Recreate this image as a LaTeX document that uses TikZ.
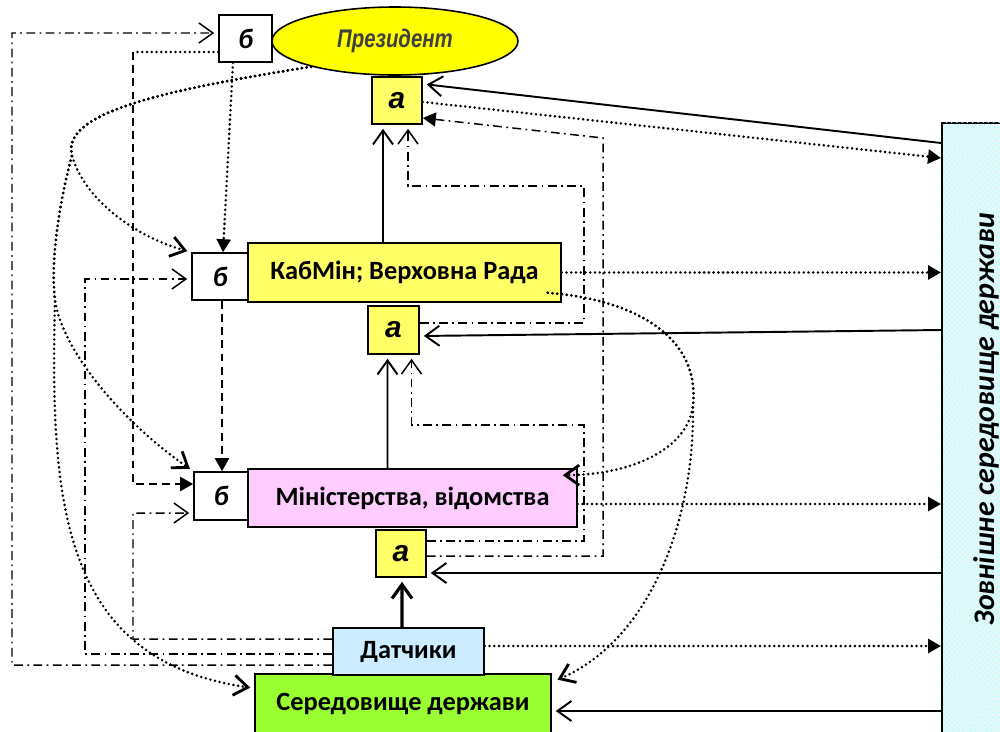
\documentclass[tikz,border=0pt]{standalone}
\usepackage{fontspec}
\setmainfont{Carlito}
\newfontfamily\arialf{Liberation Sans}
\usetikzlibrary{arrows.meta,shapes.geometric,patterns}
\definecolor{prezyellow}{HTML}{FFFF00}
\definecolor{paleyellow}{HTML}{FFFF66}
\definecolor{pinkbox}{HTML}{FFCCFF}
\definecolor{skyblue}{HTML}{CCECFF}
\definecolor{grassgreen}{HTML}{99FF33}
\definecolor{iceblue}{HTML}{E3F8F8}
\tikzset{
  blk/.style={draw, line width=0.9pt, inner sep=0pt, font=\bfseries\fontsize{15}{17}\selectfont},
  abox/.style={blk, fill=paleyellow, minimum width=10mm, minimum height=9.4mm, font=\arialf\bfseries\itshape\fontsize{17}{18}\selectfont},
  bbox/.style={blk, fill=white, minimum width=11mm, minimum height=9.4mm, font=\bfseries\itshape\fontsize{16}{18}\selectfont},
  opentip/.style={-{Straight Barb[length=2.8mm,width=4mm]}, shorten >=0.8mm},
  filltip/.style={-{Triangle[length=2.6mm,width=2.8mm]}},
  sol/.style={line width=1.1pt, opentip},
  dotl/.style={line width=1.6pt, dash pattern=on 0pt off 2.7pt, line cap=round},
  ddot/.style={line width=0.85pt, dash pattern=on 5pt off 2.5pt on 1pt off 2.5pt},
  dsh/.style={line width=1.1pt, dash pattern=on 4.5pt off 3pt}
}
\begin{document}
\begin{tikzpicture}[x=0.2mm, y=-0.2mm]
  \useasboundingbox (0,0) rectangle (1000,731);
  % blocks
  \node[ellipse, draw, line width=0.9pt, fill=prezyellow, minimum width=49.2mm, minimum height=13.6mm, inner sep=0pt,
        font=\arialf\bfseries\itshape\fontsize{14.5}{16}\selectfont, text=black!75] (prez) at (395,41) {\scalebox{0.8}[1]{Президент}};
  \node[bbox, minimum width=10.6mm] (btop) at (245.5,38.5) {б};
  \node[abox] (atop) at (397,100.5) {а};
  \node[blk, fill=paleyellow, minimum width=62.6mm, minimum height=11.8mm] (kabmin) at (404.5,272.5) {КабМін; Верховна Рада};
  \node[bbox, minimum width=11.2mm] (bmid) at (220,276.5) {б};
  \node[abox, minimum width=10.2mm, minimum height=9.6mm] (amid) at (393.5,330) {а};
  \node[blk, fill=pinkbox, minimum width=65.8mm, minimum height=11.6mm] (mins) at (412.5,498) {Міністерства, відомства};
  \node[bbox, minimum width=10.8mm, minimum height=9.6mm] (blow) at (221,496) {б};
  \node[abox] (alow) at (401,553.5) {а};
  \node[blk, fill=grassgreen, minimum width=59.2mm, minimum height=11.8mm] (env) at (403,703.5) {Середовище держави};
  \node[blk, fill=skyblue, minimum width=30.2mm, minimum height=9.4mm] (sens) at (408.5,651.5) {Датчики};
  \node[blk, fill=iceblue, postaction={pattern=crosshatch dots, pattern color=cyan!30}, minimum width=14mm, minimum height=124mm, anchor=north west] (ext) at (941,122) {};
  \node[rotate=90, font=\bfseries\itshape\fontsize{17}{18}\selectfont] (extlabel) at (986,419) {Зовнішне середовище держави};

  % solid links
  \draw[sol] ([yshift=-4.2mm]ext.north west) -- ([yshift=3.3mm]atop.east);
  \draw[sol] ([yshift=-41.6mm]ext.north west) -- ([yshift=-1.2mm]amid.east);
  \draw[sol] ([yshift=-90.2mm]ext.north west) -- ([yshift=-3.9mm]alow.east);
  \draw[sol] ([yshift=-117.8mm]ext.north west) -- ([yshift=-1.5mm]env.east);
  \draw[sol] ([xshift=-4.3mm]kabmin.north) -- ([xshift=-2.8mm]atop.south);
  \draw[sol] ([xshift=-5mm]mins.north) -- ([xshift=-1.2mm]amid.south);
  \draw[sol, line width=1.8pt] ([xshift=-1.3mm]sens.north) -- ([xshift=0.2mm]alow.south);

  % dotted outputs
  \draw[dotl, filltip] ([yshift=-0.3mm]atop.east) -- ([yshift=-7.2mm]ext.north west);
  \draw[dotl, filltip] (kabmin.east) -- ([yshift=-30.1mm]ext.north west);
  \draw[dotl, filltip] ([yshift=-1.2mm]mins.east) -- ([yshift=-76.4mm]ext.north west);
  \draw[dotl, filltip] ([yshift=1.1mm]sens.east) -- ([yshift=-104.8mm]ext.north west);

  % returns to the a-blocks
  \draw[ddot, filltip] ([yshift=-0.5mm]alow.east) -| (603,138) -- ([yshift=-3.5mm]atop.east);
  \draw[ddot, opentip] ([yshift=1.4mm]amid.east) -| (584,186) -| ([xshift=2.2mm]atop.south);
  \draw[ddot, opentip] ([yshift=2.5mm]alow.east) -| (584,425) -| ([xshift=3.6mm]amid.south);

  % sensors to the b-blocks
  \draw[ddot, opentip] ([yshift=-2.7mm]sens.west) -| (12,33) -- ([yshift=1.1mm]btop.west);
  \draw[ddot, opentip] ([yshift=-0.5mm]sens.west) -| (85,279) -- ([yshift=-0.5mm]bmid.west);
  \draw[ddot, opentip] ([yshift=2.5mm]sens.west) -| (133,513) -- ([yshift=-3.4mm]blow.west);

  % b chain
  \draw[dotl, filltip] ([xshift=-2.5mm]btop.south) -- ([xshift=0.6mm]bmid.north);
  \draw[dsh, filltip] ([xshift=0.4mm]bmid.south) -- ([xshift=0.2mm]blow.north);
  \coordinate (bend) at (133,52);
  \draw[dotl] ([yshift=-2.7mm]btop.west) -- (bend);
  \draw[dsh, filltip] (bend) |- ([yshift=2.4mm]blow.west);

  % president
  \coordinate (pl) at (72,155);
  \coordinate (pk) at (55,300);
  \draw[dotl, opentip] (prez.197) .. controls (180,88) and (60,110) .. (pl)
    .. controls (82,195) and (130,235) .. (bmid.north west);
  \draw[dotl, opentip] (prez.197) .. controls (180,88) and (60,110) .. (pl)
    .. controls (60,200) and (50,260) .. (pk) .. controls (62,350) and (120,420) .. (blow.north west);
  \draw[dotl, opentip] (prez.197) .. controls (180,88) and (60,110) .. (pl)
    .. controls (60,200) and (50,260) .. (pk) .. controls (50,500) and (60,660) .. ([yshift=-3mm]env.north west);

  % cabinet
  \coordinate (kr) at (693,405);
  \draw[dotl, opentip] ([xshift=-2.8mm,yshift=2mm]kabmin.south east) .. controls (640,300) and (700,340) .. (kr)
    .. controls (688,450) and (630,475) .. ([xshift=-3.8mm,yshift=-1.4mm]mins.north east);
  \draw[dotl, opentip] ([xshift=-2.8mm,yshift=2mm]kabmin.south east) .. controls (640,300) and (700,340) .. (kr)
    .. controls (695,520) and (650,640) .. ([xshift=0.4mm,yshift=-1.6mm]env.north east);
\end{tikzpicture}
\end{document}
